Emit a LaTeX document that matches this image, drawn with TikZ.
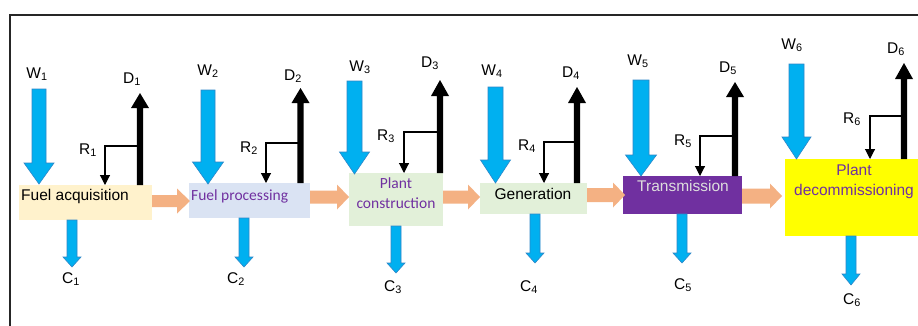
\documentclass[tikz,border=0pt]{standalone}
\usepackage{fontspec}
\setmainfont{Liberation Sans}
\newfontfamily\calib{Carlito}
\usetikzlibrary{arrows.meta}
\definecolor{bluefill}{HTML}{00B0F0}
\definecolor{blueedge}{HTML}{2E86C8}
\definecolor{orangearr}{HTML}{F4B183}
\definecolor{boxone}{HTML}{FFF2CC}
\definecolor{boxtwo}{HTML}{DAE3F3}
\definecolor{boxgreen}{HTML}{E2F0D9}
\definecolor{purp}{HTML}{7030A0}
\definecolor{yel}{HTML}{FFFF00}
\definecolor{transtext}{HTML}{DDDDDD}
\definecolor{framecol}{HTML}{262626}
\newcommand\blockdown[7]{%
  \filldraw[#1] ({#2-#5},#3) -- ({#2+#5},#3) -- ({#2+#5},{#4-#7}) -- ({#2+#6},{#4-#7}) -- (#2,#4) -- ({#2-#6},{#4-#7}) -- ({#2-#5},{#4-#7}) -- cycle;}
\newcommand\blockup[7]{%
  \fill[#1] ({#2-#5},#3) -- ({#2+#5},#3) -- ({#2+#5},{#4+#7}) -- ({#2+#6},{#4+#7}) -- (#2,#4) -- ({#2-#6},{#4+#7}) -- ({#2-#5},{#4+#7}) -- cycle;}
\newcommand\blockright[7]{%
  \fill[#1] (#2,{#4-#5}) -- ({#3-#7},{#4-#5}) -- ({#3-#7},{#4-#6}) -- (#3,#4) -- ({#3-#7},{#4+#6}) -- ({#3-#7},{#4+#5}) -- (#2,{#4+#5}) -- cycle;}
\tikzset{
  stagebox/.style={inner sep=0pt, draw=none},
  stagetext/.style={inner sep=0pt, font=\fontsize{15.5}{17}\selectfont},
  lbl/.style={inner sep=0pt, anchor=base, font=\fontsize{15.5}{17}\selectfont},
  warr/.style={fill=bluefill, draw=blueedge, line width=0.6pt},
  carr/.style={fill=bluefill, draw=blueedge, line width=0.6pt},
  darr/.style={fill=black},
  oarr/.style={fill=orangearr},
  rline/.style={draw=black, line width=1.1pt, -{Triangle[width=10pt,length=10pt]}},
}
\begin{document}
\begin{tikzpicture}[x=1pt,y=-1pt]
\clip (0,0) rectangle (918,325);
\fill[white] (0,0) rectangle (918,325);
% frame
\draw[framecol, line width=2pt] (9.5,330) -- (9.5,14.5) -- (925,14.5);

% boxes
\node[stagebox, fill=boxone, minimum width=133pt, minimum height=35pt] (b1) at (85.5,202.5) {};
\node[stagebox, fill=boxtwo, minimum width=121pt, minimum height=35pt] (b2) at (249.5,200.5) {};
\node[stagebox, fill=boxgreen, minimum width=94pt, minimum height=53pt] (b3) at (396,199.5) {};
\node[stagebox, fill=boxgreen, minimum width=107pt, minimum height=31pt] (b4) at (533.5,198.5) {};
\node[stagebox, fill=purp, minimum width=119pt, minimum height=38pt] (b5) at (682.5,195) {};
\node[stagebox, fill=yel, minimum width=140pt, minimum height=77pt] (b6) at (855,197.5) {};

% box texts
\node[stagetext, anchor=base west] (t1) at (21,200) {Fuel acquisition};
\node[stagetext, anchor=base west, text=purp] (t2) at (191,200) {\calib Fuel processing};
\node[stagetext, anchor=base, text=purp] (t3a) at (396,188) {\calib Plant};
\node[stagetext, anchor=base, text=purp] (t3b) at (396,208) {\calib construction};
\node[stagetext, anchor=base] (t4) at (533,199.5) {Generation};
\node[stagetext, anchor=base, text=transtext] (t5) at (683,191) {Transmission};
\node[stagetext, anchor=base, text=purp] (t6a) at (854,175) {Plant};
\node[stagetext, anchor=base, text=purp] (t6b) at (854,195) {decommissioning};

% orange arrows between boxes
\blockright{oarr}{152}{190}{201}{6}{12.5}{13}
\blockright{oarr}{310}{349}{197}{6.5}{12.5}{12}
\blockright{oarr}{443}{480}{197}{6.5}{12.5}{12}
\blockright{oarr}{587}{625}{195}{7}{12.5}{12}
\blockright{oarr}{742}{782}{196}{7.5}{12.5}{12}

% W arrows
\blockdown{warr}{39}{89}{184}{7}{15}{21}
\blockdown{warr}{208}{90}{184}{7}{15.5}{22}
\blockdown{warr}{354.5}{81}{174}{7.5}{15}{22}
\blockdown{warr}{495.5}{87}{183}{7.5}{15}{23}
\blockdown{warr}{641}{80}{176}{8}{15.5}{21}
\blockdown{warr}{796.5}{64}{159}{7.5}{14.5}{22}

% D arrows
\blockup{darr}{140}{185}{93}{3.2}{9}{15}
\blockup{darr}{300.5}{183}{88}{3.2}{9}{15}
\blockup{darr}{440}{173}{80}{3.2}{9}{16}
\blockup{darr}{577}{183}{87}{3.2}{9}{16}
\blockup{darr}{735}{176}{82}{3.2}{9}{15}
\blockup{darr}{904}{159}{63}{3.2}{9}{16}

% R connectors
\draw[rline] (140,146) -- (105,146) -- (105,185);
\draw[rline] (300.5,143) -- (266,143) -- (266,183);
\draw[rline] (440,132) -- (404,132) -- (404,173);
\draw[rline] (577,142) -- (544,142) -- (544,183);
\draw[rline] (735,136) -- (700,136) -- (700,176);
\draw[rline] (904,116) -- (870,116) -- (870,159);

% C arrows
\blockdown{carr}{72}{220}{267}{5}{9}{10}
\blockdown{carr}{244}{218}{267}{5}{9}{10}
\blockdown{carr}{396}{226}{273}{5}{9}{10}
\blockdown{carr}{535}{214}{263}{5}{9}{10}
\blockdown{carr}{682}{214}{263}{5}{9}{10}
\blockdown{carr}{851}{236}{285}{5}{9}{11}

% labels
\node[lbl] (w1) at (37,78) {W\textsubscript{1}};
\node[lbl] (w2) at (208,75) {W\textsubscript{2}};
\node[lbl] (w3) at (360,71) {W\textsubscript{3}};
\node[lbl] (w4) at (492,75) {W\textsubscript{4}};
\node[lbl] (w5) at (638,65) {W\textsubscript{5}};
\node[lbl] (w6) at (792,49) {W\textsubscript{6}};
\node[lbl] (d1) at (132,83) {D\textsubscript{1}};
\node[lbl] (d2) at (293,80) {D\textsubscript{2}};
\node[lbl] (d3) at (430,67) {D\textsubscript{3}};
\node[lbl] (d4) at (571,77) {D\textsubscript{4}};
\node[lbl] (d5) at (728,72) {D\textsubscript{5}};
\node[lbl] (d6) at (896,53) {D\textsubscript{6}};
\node[lbl] (r1) at (88,154) {R\textsubscript{1}};
\node[lbl] (r2) at (249,152) {R\textsubscript{2}};
\node[lbl] (r3) at (386,140) {R\textsubscript{3}};
\node[lbl] (r4) at (527,150) {R\textsubscript{4}};
\node[lbl] (r5) at (683,145) {R\textsubscript{5}};
\node[lbl] (r6) at (852,123) {R\textsubscript{6}};
\node[lbl] (c1) at (71,283) {C\textsubscript{1}};
\node[lbl] (c2) at (236,283) {C\textsubscript{2}};
\node[lbl] (c3) at (393,291) {C\textsubscript{3}};
\node[lbl] (c4) at (529,291) {C\textsubscript{4}};
\node[lbl] (c5) at (683,289) {C\textsubscript{5}};
\node[lbl] (c6) at (852,304) {C\textsubscript{6}};
\end{tikzpicture}
\end{document}
